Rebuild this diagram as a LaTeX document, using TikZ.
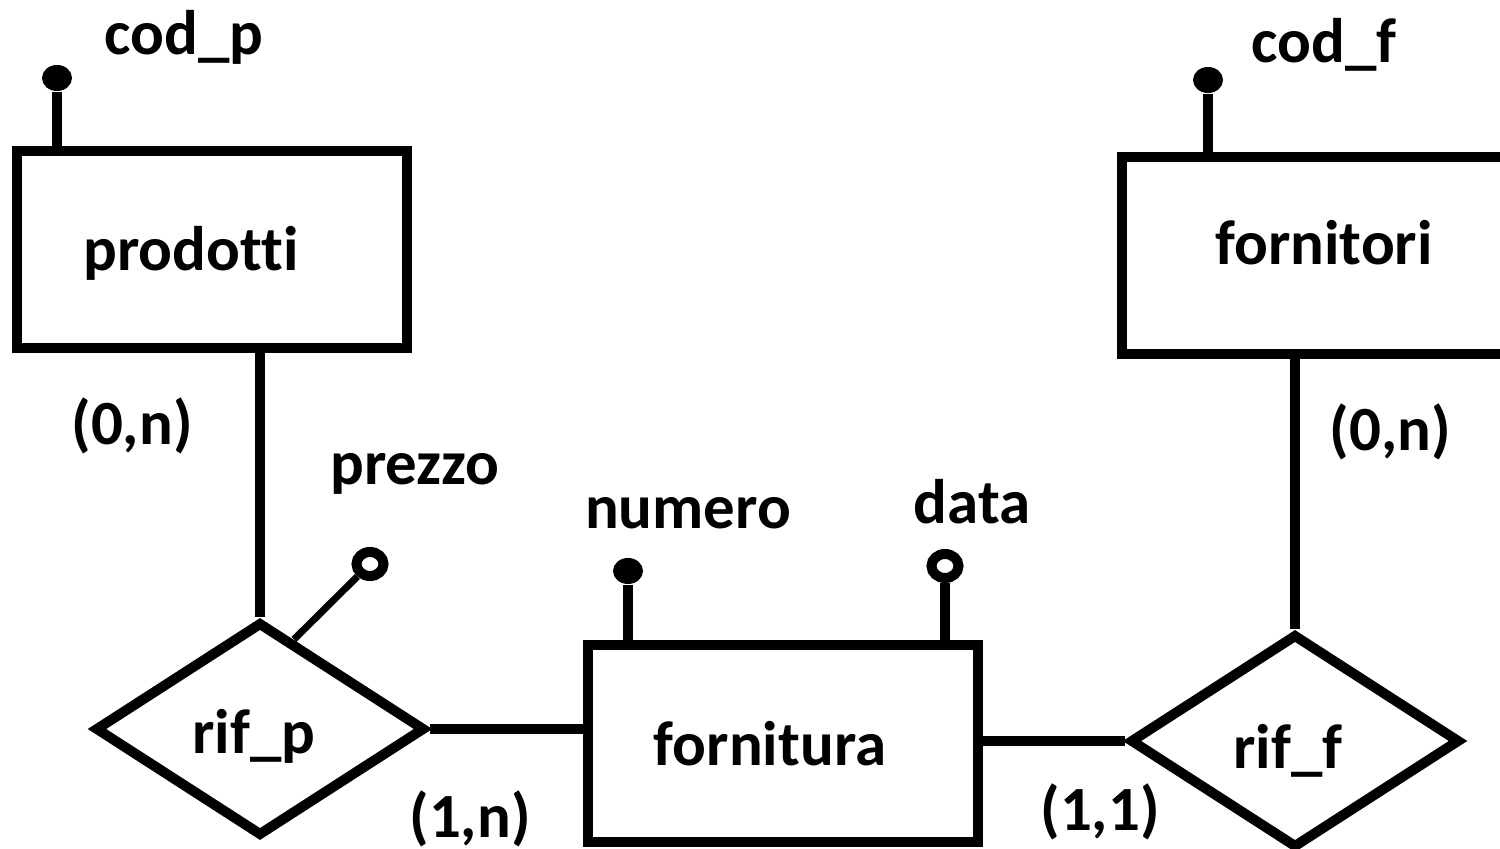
\documentclass[tikz,border=0pt]{standalone}
\usepackage{fontspec}
\setmainfont{Carlito}[Ligatures=NoCommon]
\usetikzlibrary{shapes.geometric,calc}
\begin{document}
\begin{tikzpicture}[x=0.01cm,y=-0.01cm,
  ent/.style={draw,line width=0.1cm,rectangle,minimum width=3.9cm,minimum height=1.97cm,inner sep=0},
  rel/.style={draw,line width=0.1cm,diamond,minimum width=3.3cm,minimum height=2.14cm,inner sep=0},
  conn/.style={line width=0.1cm},
  thinconn/.style={line width=0.07cm},
  keydot/.style={ellipse,fill=black,minimum width=0.3cm,minimum height=0.26cm,inner sep=0},
  optring/.style={ellipse,draw,line width=0.1cm,minimum width=0.27cm,minimum height=0.24cm,inner sep=0},
  txt/.style={anchor=base,inner sep=0,font=\fontsize{17.9}{21}\selectfont\bfseries}]
\useasboundingbox (0,0) rectangle (1500,849);
\clip (0,0) rectangle (1500,849);
\fill[white] (0,0) rectangle (1500,849);

% entities and relationships
\node[ent] (prodotti) at (212,249.5) {};
\node[ent] (fornitori) at (1317,255.5) {};
\node[ent] (fornitura) at (783,743.5) {};
\node[rel] (rifp) at (260,729) {};
\node[rel] (riff) at (1295,741) {};

% attribute markers
\node[keydot] (kcodp) at (57,78) {};
\node[keydot] (kcodf) at (1208,80) {};
\node[keydot] (knum) at (628,571) {};
\node[optring] (kdata) at (945,566) {};
\node[optring] (kprezzo) at (370,564) {};

% connectors
\draw[conn] (rifp.north |- prodotti.south) -- (rifp.north);
\draw[conn] (rifp.east) -- (rifp.east -| fornitura.west);
\draw[conn] (fornitura.east |- riff.west) -- (riff.west);
\draw[conn] (riff.north |- fornitori.south) -- (riff.north);
\draw[conn] (kcodp) -- (kcodp |- prodotti.north);
\draw[conn] (kcodf) -- (kcodf |- fornitori.north);
\draw[conn] (knum) -- (knum |- fornitura.north);
\draw[conn] (kdata.south) -- (kdata |- fornitura.north);
\coordinate (pz) at ($(rifp.north)!0.2!(rifp.east)$);
\draw[thinconn] (pz) -- (kprezzo);

% texts
\node[txt] (tcodp) at (184,55) {cod\_p};
\node[txt] (tcodf) at (1324,63) {cod\_f};
\node[txt] (tprod) at (191,271) {prodotti};
\node[txt] (tforn) at (1324,265) {fornitori};
\node[txt] (t0nl) at (132,445) {(0,n)};
\node[txt] (t0nr) at (1390,450) {(0,n)};
\node[txt] (tprezzo) at (415,485) {prezzo};
\node[txt] (tnum) at (688,528) {numero};
\node[txt] (tdata) at (972,523) {data};
\node[txt] (trifp) at (254,753) {rif\_p};
\node[txt] (tfornitura) at (770,765) {fornitura};
\node[txt] (triff) at (1288,768) {rif\_f};
\node[txt] (t1n) at (470,837) {(1,n)};
\node[txt] (t11) at (1100,830) {(1,1)};
\end{tikzpicture}
\end{document}
